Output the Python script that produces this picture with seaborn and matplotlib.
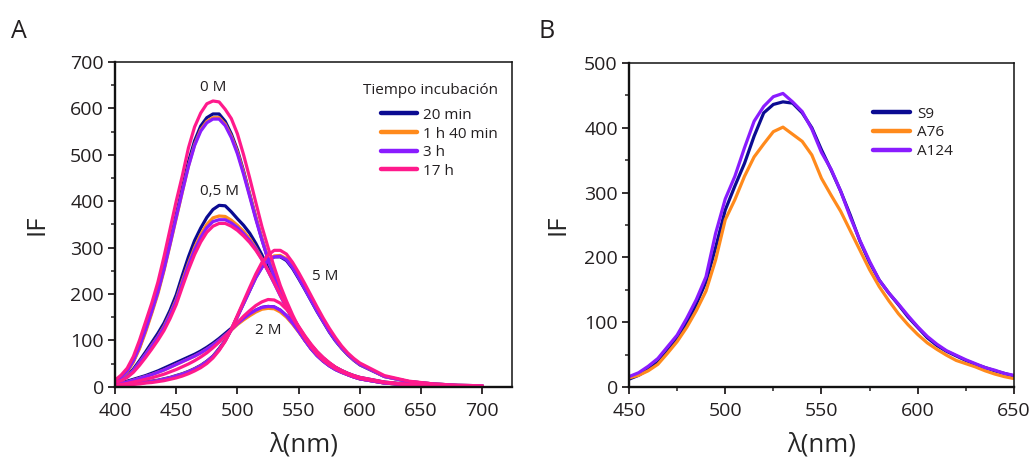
import matplotlib
matplotlib.use("Agg")
import matplotlib.pyplot as plt
import pandas as pd
import seaborn as sns
from matplotlib.lines import Line2D
from matplotlib.ticker import MultipleLocator

# ---------------- data: panel A ----------------
wavelength_a = list(range(400, 605, 5)) + [620, 640, 660, 680, 700]
time_labels = ["20 min", "1 h 40 min", "3 h", "17 h"]
conc_labels = ["0 M", "0,5 M", "2 M", "5 M"]

if_0M_20min = [12, 20, 33, 55, 85, 122, 162, 205, 255, 312, 370, 428, 485, 530, 562, 580, 588, 588, 572, 545,
               510, 465, 415, 365, 318, 275, 238, 203, 172, 145, 120, 100, 82, 67, 55, 45, 37, 31, 26, 21,
               17, 8, 4, 2, 1, 0]
if_0M_1h40 = [12, 19, 32, 53, 82, 118, 158, 200, 250, 306, 363, 420, 476, 522, 554, 572, 580, 580, 566, 540,
              506, 462, 413, 364, 318, 276, 239, 204, 173, 146, 121, 101, 83, 68, 56, 46, 38, 32, 26, 21,
              17, 8, 4, 2, 1, 0]
if_0M_3h = [13, 21, 34, 56, 86, 123, 162, 204, 253, 308, 365, 421, 475, 520, 551, 569, 577, 577, 563, 537,
            502, 458, 410, 361, 316, 274, 238, 203, 172, 145, 120, 100, 82, 67, 55, 45, 37, 31, 26, 21,
            17, 8, 4, 2, 1, 0]
if_0M_17h = [14, 25, 40, 65, 100, 140, 180, 225, 280, 340, 400, 455, 515, 560, 590, 610, 616, 614, 598, 578,
             545, 500, 450, 397, 345, 300, 258, 218, 185, 155, 128, 105, 86, 70, 57, 47, 39, 32, 27, 22,
             18, 9, 4, 2, 1, 0]

if_05M_20min = [8, 14, 24, 38, 56, 75, 95, 115, 137, 165, 198, 240, 280, 315, 342, 365, 382, 391, 390, 377,
                362, 348, 331, 309, 284, 255, 228, 200, 175, 150, 128, 108, 90, 75, 62, 51, 42, 35, 29, 24,
                20, 10, 5, 2, 1, 0]
if_05M_1h40 = [8, 13, 22, 35, 52, 70, 89, 108, 130, 157, 188, 228, 266, 300, 328, 350, 364, 368, 367, 359,
               348, 335, 319, 299, 276, 250, 224, 197, 172, 148, 126, 106, 89, 74, 61, 50, 41, 34, 28, 23,
               19, 9, 4, 2, 1, 0]
if_05M_3h = [8, 13, 22, 35, 52, 70, 88, 107, 128, 155, 185, 224, 262, 295, 322, 343, 356, 360, 360, 353,
             343, 330, 315, 297, 274, 249, 223, 196, 171, 147, 125, 105, 88, 73, 60, 49, 41, 34, 28, 23,
             19, 9, 4, 2, 1, 0]
if_05M_17h = [9, 13, 20, 31, 46, 63, 81, 100, 121, 147, 177, 215, 252, 285, 312, 333, 346, 352, 352, 346,
              337, 325, 311, 294, 274, 250, 225, 198, 173, 149, 127, 107, 90, 75, 62, 51, 42, 35, 29, 24,
              20, 10, 5, 2, 1, 0]

if_2M_20min = [5, 8, 12, 16, 20, 24, 29, 34, 40, 46, 52, 58, 64, 70, 77, 85, 94, 104, 115, 126,
               138, 148, 157, 165, 171, 173, 172, 165, 153, 138, 120, 102, 86, 72, 60, 49, 40, 33, 27, 22,
               18, 9, 4, 2, 1, 0]
if_2M_1h40 = [4, 7, 10, 14, 18, 22, 26, 31, 36, 42, 48, 54, 60, 66, 73, 81, 90, 100, 111, 122,
              134, 144, 153, 161, 167, 169, 168, 161, 150, 135, 118, 100, 84, 70, 58, 48, 39, 32, 26, 21,
              17, 8, 4, 2, 1, 0]
if_2M_3h = [4, 7, 10, 14, 18, 22, 26, 31, 36, 42, 48, 54, 60, 66, 73, 81, 90, 100, 111, 123,
            136, 147, 157, 165, 171, 173, 172, 165, 153, 137, 119, 101, 85, 71, 59, 48, 39, 32, 26, 21,
            17, 8, 4, 2, 1, 0]
if_2M_17h = [3, 5, 7, 10, 13, 16, 19, 23, 27, 32, 37, 43, 49, 56, 64, 73, 84, 96, 109, 123,
             138, 152, 164, 175, 183, 188, 187, 180, 167, 150, 130, 110, 92, 76, 63, 52, 42, 34, 28, 23,
             19, 9, 4, 2, 1, 0]

if_5M_20min = [3, 4, 5, 7, 8, 10, 12, 14, 17, 20, 24, 28, 33, 39, 46, 55, 66, 82, 100, 124,
               152, 180, 208, 236, 258, 272, 280, 280, 272, 255, 233, 210, 186, 162, 140, 118, 99, 83, 69, 57,
               47, 22, 11, 6, 3, 2]
if_5M_1h40 = [3, 4, 5, 6, 8, 9, 11, 13, 16, 19, 23, 27, 32, 38, 45, 54, 65, 80, 99, 123,
              151, 180, 208, 236, 259, 274, 282, 283, 276, 259, 237, 213, 189, 165, 142, 120, 101, 84, 70, 58,
              48, 22, 11, 6, 3, 2]
if_5M_3h = [3, 4, 5, 6, 8, 9, 11, 13, 16, 19, 23, 27, 32, 38, 45, 54, 65, 80, 99, 123,
            151, 179, 207, 235, 257, 272, 280, 281, 274, 257, 235, 211, 187, 163, 141, 119, 100, 84, 70, 58,
            48, 22, 11, 6, 3, 2]
if_5M_17h = [2, 3, 4, 5, 6, 8, 9, 11, 13, 16, 19, 23, 28, 34, 41, 50, 62, 78, 98, 124,
             154, 184, 214, 243, 268, 284, 294, 294, 286, 268, 246, 222, 197, 172, 148, 126, 106, 88, 73, 61,
             51, 24, 12, 6, 3, 2]

# ---------------- data: panel B ----------------
wavelength_b = list(range(450, 655, 5))
sample_labels = ["S9", "A76", "A124"]
if_S9 = [12, 18, 27, 38, 55, 74, 98, 128, 162, 215, 273, 310, 345, 387, 423, 436, 440, 438, 423, 400,
         366, 335, 302, 265, 225, 192, 165, 145, 127, 108, 92, 76, 64, 55, 48, 41, 35, 30, 25, 21, 17]
if_A76 = [14, 18, 25, 35, 52, 70, 92, 118, 148, 196, 258, 289, 325, 355, 375, 394, 401, 390, 379, 358,
          322, 296, 271, 241, 211, 181, 155, 133, 113, 96, 81, 68, 58, 49, 41, 36, 31, 25, 20, 16, 13]
if_A124 = [16, 22, 32, 44, 62, 80, 106, 135, 170, 237, 290, 325, 369, 410, 433, 448, 453, 440, 425, 398,
           362, 336, 302, 262, 226, 194, 165, 145, 128, 110, 93, 78, 66, 56, 49, 42, 36, 30, 26, 21, 18]

# ---------------- colours ----------------
col_navy = "#0B0B92"
col_orange = "#FF8A1C"
col_purple = "#8A1CFF"
col_pink = "#FF1A8C"
palette_a = dict(zip(time_labels, [col_navy, col_orange, col_purple, col_pink]))
palette_b = dict(zip(sample_labels, [col_navy, col_orange, col_purple]))

series_a = {
    ("0 M", "20 min"): if_0M_20min, ("0 M", "1 h 40 min"): if_0M_1h40,
    ("0 M", "3 h"): if_0M_3h, ("0 M", "17 h"): if_0M_17h,
    ("0,5 M", "20 min"): if_05M_20min, ("0,5 M", "1 h 40 min"): if_05M_1h40,
    ("0,5 M", "3 h"): if_05M_3h, ("0,5 M", "17 h"): if_05M_17h,
    ("2 M", "20 min"): if_2M_20min, ("2 M", "1 h 40 min"): if_2M_1h40,
    ("2 M", "3 h"): if_2M_3h, ("2 M", "17 h"): if_2M_17h,
    ("5 M", "20 min"): if_5M_20min, ("5 M", "1 h 40 min"): if_5M_1h40,
    ("5 M", "3 h"): if_5M_3h, ("5 M", "17 h"): if_5M_17h,
}
rows = []
for (conc, t), vals in series_a.items():
    for w, v in zip(wavelength_a, vals):
        rows.append({"wl": w, "IF": v, "time": t, "conc": conc})
df_a = pd.DataFrame(rows)

rows = []
for name, vals in zip(sample_labels, [if_S9, if_A76, if_A124]):
    for w, v in zip(wavelength_b, vals):
        rows.append({"wl": w, "IF": v, "sample": name})
df_b = pd.DataFrame(rows)

# ---------------- style ----------------
sns.set_theme(style="ticks")
plt.rcParams["font.family"] = ["Open Sans", "DejaVu Sans"]
plt.rcParams["text.color"] = "#231f20"
plt.rcParams["xtick.color"] = "#231f20"
plt.rcParams["ytick.color"] = "#231f20"

fig = plt.figure(figsize=(10.34, 4.57), dpi=100)
ax_a = fig.add_axes([0.1112, 0.1538, 0.3840, 0.7105])
ax_b = fig.add_axes([0.6083, 0.1532, 0.3723, 0.7090])

LW = 2.3
sns.lineplot(data=df_a, x="wl", y="IF", hue="time", units="conc", estimator=None,
             hue_order=time_labels, palette=palette_a, lw=LW, legend=False, sort=False, ax=ax_a)
sns.lineplot(data=df_b, x="wl", y="IF", hue="sample", estimator=None,
             hue_order=sample_labels, palette=palette_b, lw=LW, legend=False, sort=False, ax=ax_b)


def style_axes(ax, ylab_x):
    for side in ["left", "bottom"]:
        ax.spines[side].set_linewidth(1.7)
    for side in ["top", "right"]:
        ax.spines[side].set_visible(True)
        ax.spines[side].set_linewidth(1.1)
    for sp in ax.spines.values():
        sp.set_color("#111111")
    ax.tick_params(which="major", direction="out", length=5, width=1.3, labelsize=14)
    ax.tick_params(axis="x", which="major", pad=6)
    ax.tick_params(axis="y", which="major", pad=3)
    ax.tick_params(which="minor", direction="out", length=3, width=1.1)
    ax.set_xlabel("λ(nm)", fontsize=18.5)
    ax.set_ylabel("IF", fontsize=18.5)
    ax.yaxis.set_label_coords(ylab_x, 0.5)


# panel A
ax_a.set_xlim(400, 724.2)
ax_a.set_ylim(0, 700)
ax_a.yaxis.set_major_locator(MultipleLocator(100))
ax_a.yaxis.set_minor_locator(MultipleLocator(50))
ax_a.set_xticks([400, 450, 500, 550, 600, 650, 700])
style_axes(ax_a, -0.164)
ax_a.xaxis.set_label_coords(0.476, -0.14)

for txt, (x, y) in zip(conc_labels, [(480, 645), (485, 420), (525, 122), (572, 238)]):
    ax_a.text(x, y, txt, fontsize=11, ha="center", va="center", color="#231f20")

handles_a = [Line2D([0], [0], color=palette_a[t], lw=3.2) for t in time_labels]
leg_a = ax_a.legend(handles_a, time_labels, title="Tiempo incubación", loc="upper right",
                    bbox_to_anchor=(0.965, 0.935), frameon=False, fontsize=11, title_fontsize=11,
                    handlelength=2.4, handletextpad=0.4, labelspacing=0.24, borderpad=0, borderaxespad=0,
                    alignment="right")
leg_a._legend_box.sep = 7

# panel B
ax_b.set_xlim(450, 650)
ax_b.set_ylim(0, 500)
ax_b.xaxis.set_major_locator(MultipleLocator(50))
ax_b.xaxis.set_minor_locator(MultipleLocator(25))
ax_b.yaxis.set_major_locator(MultipleLocator(100))
ax_b.yaxis.set_minor_locator(MultipleLocator(50))
style_axes(ax_b, -0.153)
ax_b.xaxis.set_label_coords(0.5, -0.14)

handles_b = [Line2D([0], [0], color=palette_b[s], lw=3.2) for s in sample_labels]
ax_b.legend(handles_b, sample_labels, loc="upper left", bbox_to_anchor=(0.634, 0.865), frameon=False,
            fontsize=11, handlelength=2.4, handletextpad=0.5, labelspacing=0.24, borderpad=0,
            borderaxespad=0)

fig.text(0.011, 0.93, "A", fontsize=18, ha="left", va="center", color="#231f20")
fig.text(0.521, 0.93, "B", fontsize=18, ha="left", va="center", color="#231f20")

fig.savefig("out.png", dpi=100)
